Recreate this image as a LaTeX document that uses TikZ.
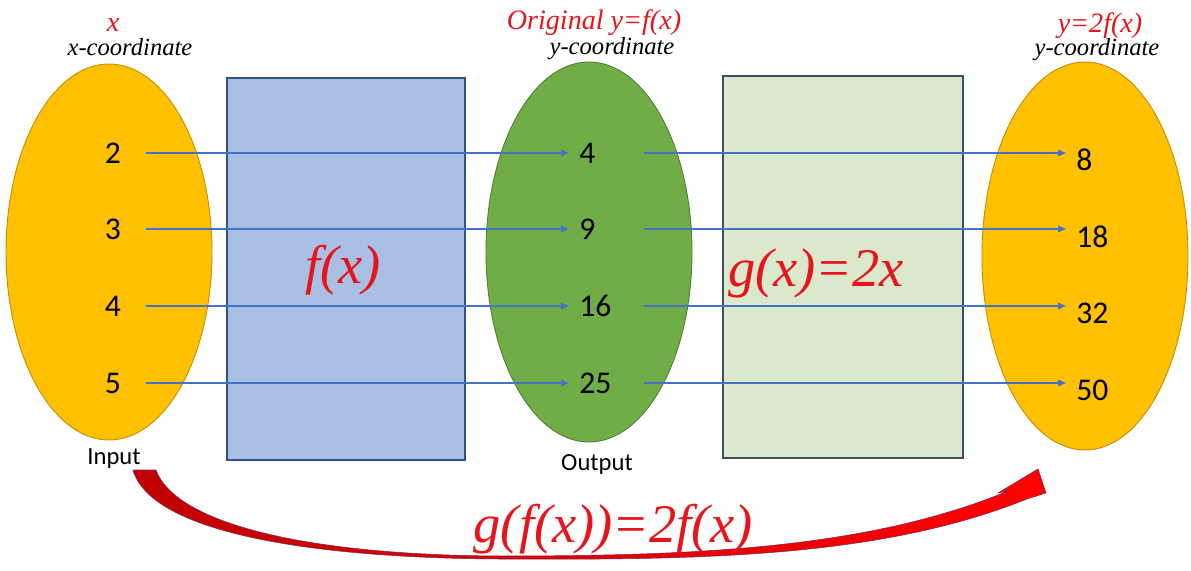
\documentclass[tikz,border=0pt]{standalone}
\usepackage{fontspec}
\setmainfont{Liberation Serif}
\newfontfamily\calibri{Carlito}
\usetikzlibrary{arrows.meta}

\definecolor{bagyellow}{HTML}{FFC000}
\definecolor{bagyellowline}{HTML}{BF9000}
\definecolor{baggreen}{HTML}{70AD47}
\definecolor{baggreenline}{HTML}{507E32}
\definecolor{boxblue}{HTML}{AABFE4}
\definecolor{boxblueline}{HTML}{2F528F}
\definecolor{boxgreen}{HTML}{DAE8CC}
\definecolor{boxgreenline}{HTML}{3F4E5C}
\definecolor{maparrow}{HTML}{4472C4}
\definecolor{fred}{HTML}{E8141B}
\definecolor{swoopdark}{HTML}{C00000}
\definecolor{swoopmid}{HTML}{4A3380}
\definecolor{swoopline}{HTML}{7A2A60}

\begin{document}
\begin{tikzpicture}[x=0.02cm, y=-0.02cm,
    num/.style={font=\calibri\fontsize{18}{21}\selectfont, inner sep=0pt},
    map/.style={draw=maparrow, line width=0.6pt, -{Triangle[length=1.6mm, width=1.3mm]}},
    red label/.style={text=fred, font=\itshape\fontsize{16}{18}\selectfont, inner sep=0pt},
    coord label/.style={font=\itshape\fontsize{14}{16}\selectfont, inner sep=0pt},
    big label/.style={text=fred, font=\itshape\fontsize{31}{34}\selectfont, inner sep=0pt},
    io label/.style={font=\calibri\fontsize{14}{16}\selectfont, inner sep=0pt}]
  \useasboundingbox (0,0) rectangle (1191,571);

  % --- sets and machines ---
  \draw[fill=bagyellow, draw=bagyellowline, line width=0.5pt] (109,252) ellipse [x radius=103, y radius=188];
  \draw[fill=boxblue, draw=boxblueline, line width=0.6pt] (227,78) rectangle (465,460);
  \draw[fill=baggreen, draw=baggreenline, line width=0.5pt] (589,252) ellipse [x radius=103, y radius=190];
  \draw[fill=boxgreen, draw=boxgreenline, line width=0.6pt] (723,76) rectangle (963,458);
  \draw[fill=bagyellow, draw=bagyellowline, line width=0.5pt] (1085,256) ellipse [x radius=103, y radius=194];

  % --- values ---
  \foreach \n/\t/\y in {l2/2/153, l3/3/229, l4/4/306, l5/5/383}
    \node[num] (\n) at (113,\y) {\t};
  \foreach \n/\t/\y in {m4/4/153, m9/9/229, m16/16/306, m25/25/383}
    \node[num, anchor=west] (\n) at (579,\y) {\t};
  \foreach \n/\t/\y in {r8/8/160, r18/18/237, r32/32/313, r50/50/390}
    \node[num, anchor=west] (\n) at (1076,\y) {\t};

  % --- mapping arrows ---
  \foreach \a/\b/\c in {l2/m4/r8, l3/m9/r18, l4/m16/r32, l5/m25/r50} {
    \draw[map] ([xshift=5mm]\a.east) -- ([xshift=-2mm]\b.west);
    \draw[map] ([xshift=13mm]\b.west) -- ([xshift=-2mm]\b.west -| \c.west);
  }

  % --- headings ---
  \node[red label] (xhead) at (113,25) {x};
  \node[coord label] (xcoord) at (130,47) {x-coordinate};
  \node[red label] (fhead) at (594,23) {Original y=f(x)};
  \node[coord label] (fcoord) at (612,49) {y-coordinate};
  \node[red label] (ghead) at (1100,26) {y=2f(x)};
  \node[coord label] (gcoord) at (1097,50) {y-coordinate};
  \node[io label] (input) at (114,459) {Input};
  \node[io label] (output) at (597,464) {Output};

  % --- rules ---
  \node[big label] (frule) at (343,270) {f(x)};
  \node[big label] (grule) at (816,273) {g(x)=2x};

  % --- composite swoop ---
  \shadedraw[draw=swoopline, line width=0.3pt,
             left color=swoopdark, middle color=swoopmid, right color=red]
    (133,470) .. controls (150,530) and (300,558) .. (500,559)
    .. controls (700,560) and (880,558) .. (1027,499)
    -- (1046,493) -- (1038,469) -- (998,493) -- (1008,491)
    .. controls (870,548) and (700,556) .. (500,556)
    .. controls (300,555) and (175,522) .. (156,470) -- cycle;
  \node[big label] (comprule) at (613,529) {g(f(x))=2f(x)};
\end{tikzpicture}
\end{document}
